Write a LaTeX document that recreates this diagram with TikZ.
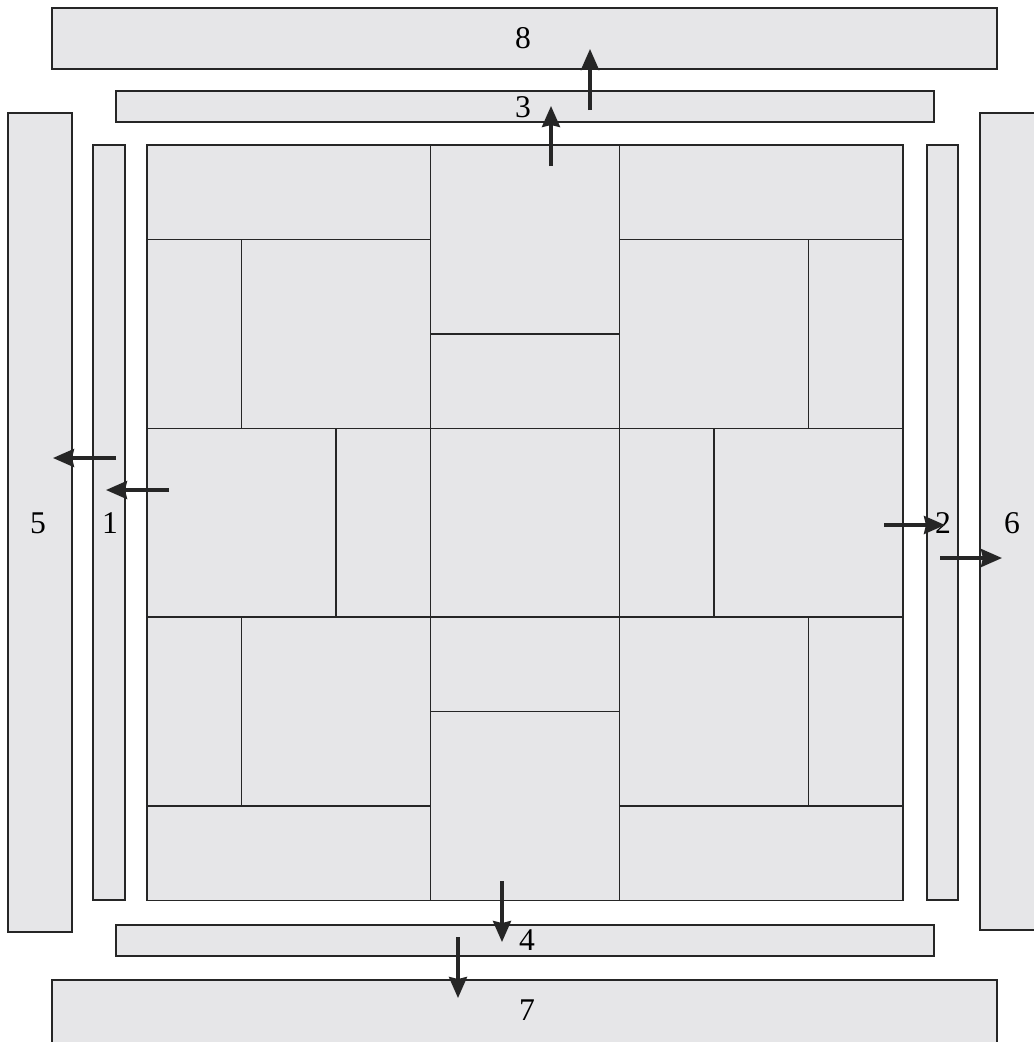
\documentclass[tikz,border=0pt]{standalone}
\usepackage{fontspec}
\setmainfont{Liberation Serif}
\usepackage{tikz}
\usetikzlibrary{arrows.meta}
\definecolor{panel}{RGB}{230,230,232}

\begin{document}
\begin{tikzpicture}[
    x=0.02cm, y=-0.02cm,
    cell/.style={draw=black!85, line width=0.8pt, fill=panel},
    strip/.style={draw=black!85, line width=0.8pt, fill=panel},
    push/.style={-{Stealth[length=0.42cm, width=0.36cm, inset=0.04cm]}, line width=1.9pt, black!85},
    num/.style={font=\fontsize{18}{22}\selectfont, inner sep=0pt}
  ]
    \useasboundingbox (0,0) rectangle (1034,1042);
    \clip (0,0) rectangle (1034,1042);
    % outer strips
    \draw[strip] (52,8) rectangle (997,69);
    \draw[strip] (52,980) rectangle (997,1070);
    \draw[strip] (8,113) rectangle (72,932);
    \draw[strip] (980,113) rectangle (1060,930);
    % inner strips
    \draw[strip] (116,91) rectangle (934,122);
    \draw[strip] (116,925) rectangle (934,956);
    \draw[strip] (93,145) rectangle (125,900);
    \draw[strip] (927,145) rectangle (958,900);
    % central blocks, in grid units
    \foreach \a/\b/\c/\d in {0/0/3/1, 3/0/5/2, 5/0/8/1,
        0/1/1/3, 1/1/3/3, 3/2/5/3, 5/1/7/3, 7/1/8/3,
        0/3/2/5, 2/3/3/5, 3/3/5/5, 5/3/6/5, 6/3/8/5,
        0/5/1/7, 1/5/3/7, 3/5/5/6, 5/5/7/7, 7/5/8/7,
        0/7/3/8, 3/6/5/8, 5/7/8/8}
      \draw[cell] ({147+94.5*\a},{145+94.4*\b}) rectangle ({147+94.5*\c},{145+94.4*\d});
    % labels
    \node[num] (n1) at (110,523) {1};
    \node[num] (n2) at (943,523) {2};
    \node[num] (n3) at (523,107) {3};
    \node[num] (n4) at (527,940) {4};
    \node[num] (n5) at (38,523) {5};
    \node[num] (n6) at (1012,523) {6};
    \node[num] (n7) at (527,1010) {7};
    \node[num] (n8) at (523,38) {8};
    % arrows
    \coordinate (u1) at (551,166); \coordinate (u2) at (551,106);
    \coordinate (v1) at (590,110); \coordinate (v2) at (590,49);
    \coordinate (l1) at (169,490); \coordinate (l2) at (106,490);
    \coordinate (k1) at (116,458); \coordinate (k2) at (53,458);
    \coordinate (r1) at (884,525); \coordinate (r2) at (945,525);
    \coordinate (q1) at (940,558); \coordinate (q2) at (1002,558);
    \coordinate (d1) at (502,881); \coordinate (d2) at (502,942);
    \coordinate (e1) at (458,937); \coordinate (e2) at (458,998);
    \draw[push] (u1) -- (u2);
    \draw[push] (v1) -- (v2);
    \draw[push] (l1) -- (l2);
    \draw[push] (k1) -- (k2);
    \draw[push] (r1) -- (r2);
    \draw[push] (q1) -- (q2);
    \draw[push] (d1) -- (d2);
    \draw[push] (e1) -- (e2);
  \end{tikzpicture}
\end{document}
